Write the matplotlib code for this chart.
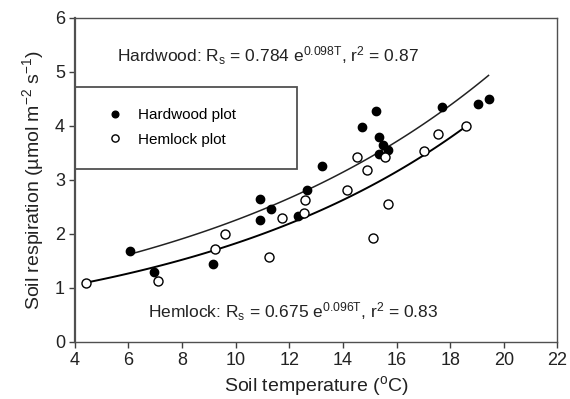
import numpy as np
import matplotlib
matplotlib.use("Agg")
import matplotlib.pyplot as plt
from matplotlib.patches import Rectangle

plt.rcParams['font.family'] = ['Liberation Sans', 'DejaVu Sans']
plt.rcParams['mathtext.fontset'] = 'custom'
plt.rcParams['mathtext.rm'] = 'Liberation Sans'

# Hardwood plot (filled circles)
hw_temp = [6.06, 6.97, 9.14, 10.9, 10.9, 11.32, 12.33, 12.67, 13.23, 14.71,
           15.23, 15.34, 15.50, 15.70, 15.35, 17.70, 19.04, 19.43]
hw_resp = [1.69, 1.30, 1.44, 2.64, 2.25, 2.46, 2.33, 2.81, 3.25, 3.98,
           4.28, 3.79, 3.65, 3.56, 3.48, 4.36, 4.41, 4.50]

# Hemlock plot (open circles)
hm_temp = [4.44, 7.09, 9.24, 9.60, 11.25, 11.74, 12.55, 12.58, 14.15, 14.53,
           14.89, 15.12, 15.57, 15.67, 17.02, 17.54, 18.58]
hm_resp = [1.10, 1.13, 1.72, 2.00, 1.58, 2.30, 2.39, 2.62, 2.81, 3.42,
           3.18, 1.93, 3.43, 2.56, 3.54, 3.85, 3.99]

# exponential curves as drawn
hw_a, hw_b = 0.982, 0.0831
hm_a, hm_b = 0.734, 0.0911

fig = plt.figure(figsize=(5.7, 3.99), dpi=100)
ax = fig.add_axes([0.131, 0.143, 0.847, 0.812])

t1 = np.linspace(min(hw_temp), max(hw_temp), 100)
t2 = np.linspace(min(hm_temp), max(hm_temp), 100)
ax.plot(t1, hw_a*np.exp(hw_b*t1), color='#222222', lw=1.1, zorder=2)
ax.plot(t2, hm_a*np.exp(hm_b*t2), color='black', lw=1.4, zorder=2)

ax.plot(hw_temp, hw_resp, 'o', color='black', ms=6, zorder=3, label='Hardwood plot')
ax.plot(hm_temp, hm_resp, 'o', mfc='white', mec='black', mew=1.0, ms=6.5, zorder=3,
        label='Hemlock plot')

ax.set_xlim(4, 22)
ax.set_ylim(0, 6)
ax.set_xticks(range(4, 23, 2))
ax.set_yticks(range(0, 7))
ax.tick_params(labelsize=13, length=4, width=1, color='#404040', labelcolor='#222222', pad=3)
for s in ax.spines.values():
    s.set_color('#505050')
    s.set_linewidth(1.0)
ax.spines['left'].set_linewidth(1.6)

ax.set_xlabel('Soil temperature ($\\mathregular{^o}$C)', fontsize=14, color='#222222', labelpad=4)
ax.set_ylabel('Soil respiration (µmol m$\\mathregular{^{-2}}$ s$\\mathregular{^{-1}}$)',
              fontsize=14, color='#222222', labelpad=6)

ax.text(5.58, 5.31, 'Hardwood: R$\\mathregular{_s}$ = 0.784 e$\\mathregular{^{0.098T}}$, r$\\mathregular{^2}$ = 0.87',
        fontsize=12.5, ha='left', va='center', color='#222222')
ax.text(6.73, 0.56, 'Hemlock: R$\\mathregular{_s}$ = 0.675 e$\\mathregular{^{0.096T}}$, r$\\mathregular{^2}$ = 0.83',
        fontsize=12.5, ha='left', va='center', color='#222222')

ax.add_patch(Rectangle((0, 0.534), 0.461, 0.252, transform=ax.transAxes,
                       fill=False, edgecolor='#505050', lw=1.3, zorder=4))
leg = ax.legend(loc='center left', bbox_to_anchor=(0.0677, 0.662), frameon=False,
                fontsize=11, handlelength=1, handletextpad=1.0, borderpad=0,
                borderaxespad=0, labelspacing=0.7, markerscale=0.8)

fig.savefig('out.png', dpi=100)
